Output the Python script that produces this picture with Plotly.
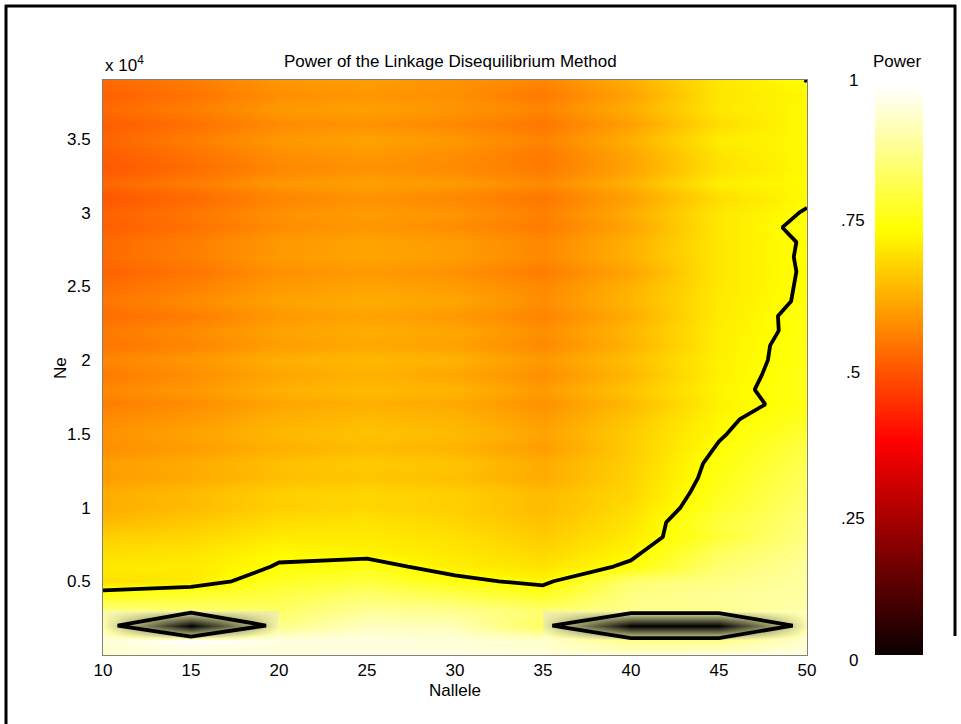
import plotly.graph_objects as go

# ---------------- data ----------------
nallele = [10, 15, 20, 25, 30, 35, 40, 45, 50]
ne = [i * 1000 for i in range(40)]  # 0 .. 39000 (grid rows)

power_n10 = [0.95, 0.96, 0.90, 0.88, 0.78, 0.703, 0.72, 0.70, 0.68, 0.65,
             0.63, 0.63, 0.605, 0.608, 0.585, 0.59, 0.58, 0.558, 0.575, 0.555,
             0.572, 0.547, 0.555, 0.535, 0.548, 0.535, 0.518, 0.531, 0.53, 0.512,
             0.519, 0.50, 0.527, 0.504, 0.51, 0.523, 0.51, 0.53, 0.516, 0.531]
power_n15 = [0.96, 1.00, 0.00, 0.86, 0.80, 0.719, 0.72, 0.71, 0.69, 0.67,
             0.65, 0.65, 0.625, 0.628, 0.605, 0.615, 0.60, 0.583, 0.60, 0.585,
             0.597, 0.572, 0.58, 0.56, 0.578, 0.565, 0.548, 0.561, 0.56, 0.542,
             0.549, 0.53, 0.557, 0.534, 0.545, 0.558, 0.54, 0.56, 0.546, 0.556]
power_n20 = [0.96, 0.97, 0.88, 0.85, 0.82, 0.786, 0.753, 0.742, 0.72, 0.70,
             0.68, 0.68, 0.655, 0.658, 0.635, 0.645, 0.635, 0.618, 0.635, 0.62,
             0.632, 0.607, 0.615, 0.60, 0.613, 0.60, 0.588, 0.601, 0.60, 0.582,
             0.589, 0.57, 0.597, 0.574, 0.585, 0.598, 0.58, 0.60, 0.586, 0.596]
power_n25 = [0.97, 0.97, 0.94, 0.90, 0.86, 0.81, 0.77, 0.7325, 0.72, 0.71,
             0.69, 0.69, 0.665, 0.673, 0.65, 0.66, 0.65, 0.633, 0.65, 0.635,
             0.647, 0.622, 0.63, 0.615, 0.628, 0.615, 0.603, 0.616, 0.615, 0.597,
             0.604, 0.59, 0.612, 0.589, 0.60, 0.613, 0.59, 0.61, 0.596, 0.606]
power_n30 = [0.97, 0.96, 0.93, 0.89, 0.83, 0.765, 0.727, 0.715, 0.705, 0.69,
             0.68, 0.68, 0.655, 0.663, 0.64, 0.65, 0.64, 0.623, 0.64, 0.62,
             0.637, 0.612, 0.62, 0.60, 0.618, 0.605, 0.588, 0.606, 0.605, 0.582,
             0.594, 0.575, 0.602, 0.579, 0.585, 0.598, 0.575, 0.595, 0.586, 0.591]
power_n35 = [0.96, 0.95, 0.84, 0.86, 0.79, 0.735, 0.71, 0.69, 0.675, 0.66,
             0.65, 0.65, 0.625, 0.628, 0.605, 0.615, 0.605, 0.588, 0.605, 0.585,
             0.602, 0.577, 0.585, 0.57, 0.583, 0.575, 0.558, 0.576, 0.575, 0.557,
             0.564, 0.55, 0.577, 0.554, 0.555, 0.568, 0.55, 0.57, 0.556, 0.571]
power_n40 = [0.96, 0.88, 0.00, 0.89, 0.88, 0.86, 0.76, 0.736, 0.72, 0.71,
             0.70, 0.69, 0.685, 0.68, 0.675, 0.675, 0.665, 0.648, 0.665, 0.645,
             0.657, 0.637, 0.645, 0.63, 0.643, 0.635, 0.618, 0.636, 0.635, 0.617,
             0.629, 0.61, 0.637, 0.614, 0.62, 0.633, 0.61, 0.63, 0.616, 0.631]
power_n45 = [0.97, 0.88, 0.00, 0.89, 0.90, 0.88, 0.86, 0.841, 0.803, 0.81,
             0.789, 0.7796, 0.7705, 0.7654, 0.7548, 0.745, 0.74, 0.73, 0.735, 0.73,
             0.73, 0.725, 0.725, 0.72, 0.72, 0.715, 0.715, 0.715, 0.715, 0.715,
             0.715, 0.70, 0.727, 0.704, 0.71, 0.723, 0.70, 0.715, 0.711, 0.716]
power_n50 = [0.97, 0.95, 0.895, 0.92, 0.91, 0.91, 0.90, 0.89, 0.88, 0.87,
             0.86, 0.85, 0.84, 0.83, 0.82, 0.80, 0.782, 0.768, 0.772, 0.771,
             0.766, 0.768, 0.7618, 0.7648, 0.7566, 0.7562, 0.7548, 0.7562, 0.7548, 0.7636,
             0.7534, 0.743, 0.745, 0.742, 0.744, 0.742, 0.744, 0.742, 0.74, 0.751]

power_columns = [power_n10, power_n15, power_n20, power_n25, power_n30,
                 power_n35, power_n40, power_n45, power_n50]

contour_level = 0.75
xticks = [10, 15, 20, 25, 30, 35, 40, 45, 50]
yticks = [5000, 10000, 15000, 20000, 25000, 30000, 35000]
ytick_labels = ["0.5", "1", "1.5", "2", "2.5", "3", "3.5"]
cbar_labels = ["1", ".75", ".5", ".25", "0"]

# z matrix: rows = Ne, columns = Nallele
Z = [[col[j] for col in power_columns] for j in range(len(ne))]

# MATLAB "hot" colormap
hot = [[0.0, "rgb(10,0,0)"], [0.375, "rgb(255,0,0)"],
       [0.75, "rgb(255,255,0)"], [1.0, "rgb(255,255,255)"]]
# RGB-style shading used around the zero-power cells
shade = [[0.0, "rgb(0,0,0)"], [0.9, "rgb(255,255,175)"], [1.0, "rgb(255,255,255)"]]

# ---------------- geometry (pixels) ----------------
W, H = 961, 724
L_, R_, T_, B_ = 103, 807, 80, 655
pw, ph = R_ - L_, B_ - T_
def px(xp):
    return (xp - L_) / pw
def py(yp):
    return (B_ - yp) / ph

FONT = "Arial, Liberation Sans, Helvetica, sans-serif"
FS = 17

fig = go.Figure()

fig.add_trace(go.Heatmap(
    x=nallele, y=ne, z=Z, colorscale=hot, zmin=0, zmax=1, zsmooth="best",
    hoverinfo="skip",
    colorbar=dict(x=px(875), xanchor="left", xpad=0, ypad=0,
                  y=0, yanchor="bottom", len=(B_ - 87) / ph, lenmode="fraction",
                  thickness=48, thicknessmode="pixels", outlinewidth=0,
                  showticklabels=False, ticks=""),
))

# shaded patches around the zero cells (same data, sub-grids)
rows_sub = [1, 2, 3]
cols_a = [0, 1, 2]
cols_b = [5, 6, 7, 8]
fig.add_trace(go.Heatmap(
    x=[nallele[c] for c in cols_a], y=[ne[r] for r in rows_sub],
    z=[[Z[r][c] for c in cols_a] for r in rows_sub],
    colorscale=shade, zmin=0, zmax=1, zsmooth="best", showscale=False,
    hoverinfo="skip", xaxis="x2", yaxis="y2"))
fig.add_trace(go.Heatmap(
    x=[nallele[c] for c in cols_b], y=[ne[r] for r in rows_sub],
    z=[[Z[r][c] for c in cols_b] for r in rows_sub],
    colorscale=shade, zmin=0, zmax=1, zsmooth="best", showscale=False,
    hoverinfo="skip", xaxis="x3", yaxis="y3"))

# contour line at the power threshold
fig.add_trace(go.Contour(
    x=nallele, y=ne, z=Z, xaxis="x4", yaxis="y4",
    contours=dict(start=contour_level, end=contour_level, size=0.1, coloring="none"),
    line=dict(color="black", width=3.8, smoothing=0),
    showscale=False, hoverinfo="skip"))

xr = [10, 50]
yr = [0, 39000]
ax_common = dict(showgrid=False, zeroline=False, ticks="")

fig.update_layout(
    width=W, height=H,
    margin=dict(l=L_, r=W - R_, t=T_, b=H - B_, pad=0),
    paper_bgcolor="white", plot_bgcolor="rgba(0,0,0,0)",
    showlegend=False,
    font=dict(family=FONT, size=FS, color="black"),
    xaxis=dict(domain=[0, 1], range=xr, tickvals=xticks, showline=True, mirror=True,
               linecolor="#808080", linewidth=1, tickfont=dict(size=FS), **ax_common),
    yaxis=dict(domain=[0, 1], range=yr, tickvals=yticks, ticktext=ytick_labels,
               showline=True, mirror=True, linecolor="#808080", linewidth=1,
               ticklabelstandoff=8, tickfont=dict(size=FS), **ax_common),
    xaxis2=dict(domain=[0, (20 - 10) / 40], range=[10, 20], anchor="y2", visible=False),
    yaxis2=dict(domain=[1000 / 39000, 3000 / 39000], range=[1000, 3000],
                anchor="x2", visible=False),
    xaxis3=dict(domain=[(35 - 10) / 40, 1], range=[35, 50], anchor="y3", visible=False),
    yaxis3=dict(domain=[1000 / 39000, 3000 / 39000], range=[1000, 3000],
                anchor="x3", visible=False),
    xaxis4=dict(domain=[0, 1], range=xr, anchor="y4", showline=True, mirror=True,
                linecolor="#808080", linewidth=1, showticklabels=False, **ax_common),
    yaxis4=dict(domain=[0, 1], range=yr, anchor="x4", showline=True, mirror=True,
                linecolor="#808080", linewidth=1, showticklabels=False, **ax_common),
)

ann = []
ann.append(dict(text="Power of the Linkage Disequilibrium Method", x=px(450), y=py(62),
                xref="paper", yref="paper", xanchor="center", yanchor="middle",
                showarrow=False, font=dict(size=FS)))
ann.append(dict(text="x 10<sup>4</sup>", x=0, y=py(64), xref="paper", yref="paper",
                xanchor="left", yanchor="middle", showarrow=False, font=dict(size=FS)))
ann.append(dict(text="Ne", x=px(60), y=py(368), xref="paper", yref="paper",
                xanchor="center", yanchor="middle", textangle=-90, showarrow=False,
                font=dict(size=FS)))
ann.append(dict(text="Nallele", x=0.5, y=py(690), xref="paper", yref="paper",
                xanchor="center", yanchor="middle", showarrow=False, font=dict(size=FS)))
ann.append(dict(text="Power", x=px(897), y=py(62), xref="paper", yref="paper",
                xanchor="center", yanchor="middle", showarrow=False, font=dict(size=FS)))
cbar_label_px = [80, 220, 372, 518, 660]
for ypix, t in zip(cbar_label_px, cbar_labels):
    ann.append(dict(text=t, x=px(853), y=py(ypix), xref="paper", yref="paper",
                    xanchor="center", yanchor="middle", showarrow=False,
                    font=dict(size=FS)))
fig.update_layout(annotations=ann)

# outer frame of the figure window
fig.add_shape(type="line", xref="paper", yref="paper", x0=px(6), x1=px(6),
              y0=py(5), y1=py(724), line=dict(color="black", width=3))
fig.add_shape(type="line", xref="paper", yref="paper", x0=px(5), x1=px(956),
              y0=py(6), y1=py(6), line=dict(color="black", width=3))
fig.add_shape(type="line", xref="paper", yref="paper", x0=px(955), x1=px(955),
              y0=py(5), y1=py(636), line=dict(color="black", width=3))

fig.write_html("out.html", config={"displayModeBar": False},
               post_script="document.body.style.margin='0px';document.body.style.overflow='hidden';")
